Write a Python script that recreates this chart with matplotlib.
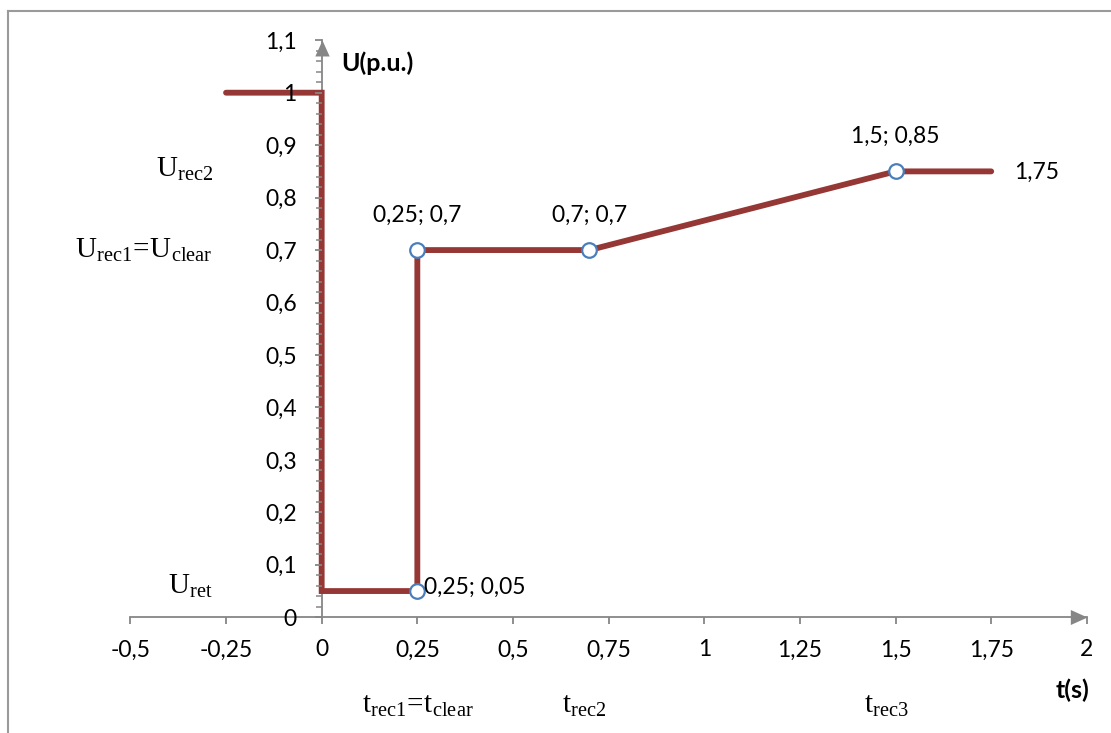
import matplotlib
matplotlib.use("Agg")
import matplotlib.pyplot as plt
from matplotlib.lines import Line2D
import numpy as np

# ---- data ----
t_values = [-0.25, 0.0, 0.0, 0.25, 0.25, 0.7, 1.5, 1.75]
u_values = [1.0, 1.0, 0.05, 0.05, 0.7, 0.7, 0.85, 0.85]
marker_t = [0.25, 0.25, 0.7, 1.5]
marker_u = [0.05, 0.7, 0.7, 0.85]
marker_labels = ["0,25; 0,05", "0,25; 0,7", "0,7; 0,7", "1,5; 0,85"]
end_label = "1,75"
x_ticks = [-0.5, -0.25, 0, 0.25, 0.5, 0.75, 1, 1.25, 1.5, 1.75, 2]
x_tick_labels = ["-0,5", "-0,25", "0", "0,25", "0,5", "0,75", "1", "1,25", "1,5", "1,75", "2"]
y_ticks = [0, 0.1, 0.2, 0.3, 0.4, 0.5, 0.6, 0.7, 0.8, 0.9, 1.0, 1.1]
y_tick_labels = ["0", "0,1", "0,2", "0,3", "0,4", "0,5", "0,6", "0,7", "0,8", "0,9", "1", "1,1"]

plt.rcParams['font.family'] = ['Lato', 'DejaVu Sans']
plt.rcParams['mathtext.fontset'] = 'custom'
plt.rcParams['mathtext.rm'] = 'Liberation Serif'
plt.rcParams['mathtext.it'] = 'Liberation Serif:italic'

LINE = '#953735'
AX = '#868686'
MK = '#4A7EBB'
FS = 16.5

fig = plt.figure(figsize=(11.11, 7.33), dpi=100)
ax = fig.add_axes([0, 0, 1, 1])
ax.set_xlim(-0.8408, 2.0631)
ax.set_ylim(-0.2206, 1.1767)
ax.patch.set_alpha(0)

for s in ['top', 'right']:
    ax.spines[s].set_visible(False)
ax.spines['left'].set_position(('data', 0))
ax.spines['bottom'].set_position(('data', 0))
ax.spines['left'].set_bounds(0, 1.1)
ax.spines['bottom'].set_bounds(-0.5, 2.0)
for s in ['left', 'bottom']:
    ax.spines[s].set_color(AX)
    ax.spines[s].set_linewidth(1.3)
    ax.spines[s].set_zorder(1.5)

ax.set_xticks(x_ticks)
ax.set_xticklabels(x_tick_labels, fontsize=FS)
ax.set_yticks(y_ticks)
ax.set_yticklabels(y_tick_labels, fontsize=FS)
ax.set_yticks(np.arange(0, 1.1001, 0.02), minor=True)
ax.tick_params(axis='x', direction='out', length=5, width=1.3, color=AX, pad=11)
ax.tick_params(axis='y', which='major', direction='out', length=5, width=1.3, color=AX, pad=13)
ax.tick_params(axis='y', which='minor', direction='out', length=4, width=1.1, color=AX)
ax.set_axisbelow(False)

# arrow heads
up = [(-0.45, -1), (0.45, -1), (0, 0)]
right = [(-1, -0.45), (-1, 0.45), (0, 0)]
ax.plot([0], [1.1], marker=up, markersize=23, color=AX, markeredgewidth=0, zorder=1.6, clip_on=False)
ax.plot([2.0], [0], marker=right, markersize=24, color=AX, markeredgewidth=0, zorder=1.6, clip_on=False)

# main line
ax.plot(t_values, u_values, color=LINE, linewidth=4.2, solid_capstyle='round',
        solid_joinstyle='miter', zorder=2)
ax.plot(marker_t, marker_u, linestyle='none', marker='o', markersize=10.5,
        markerfacecolor='white', markeredgecolor=MK, markeredgewidth=1.6, zorder=3)

# data labels
ax.annotate(marker_labels[0], xy=(marker_t[0], marker_u[0]), xytext=(5, 2.5),
            textcoords='offset points', ha='left', va='center', fontsize=FS)
for i in range(1, 4):
    ax.annotate(marker_labels[i], xy=(marker_t[i], marker_u[i]), xytext=(0, 25),
                textcoords='offset points', ha='center', va='center', fontsize=FS)
ax.annotate(end_label, xy=(t_values[-1], u_values[-1]), xytext=(16.5, -1),
            textcoords='offset points', ha='left', va='center', fontsize=FS)

# axis titles
ax.text(0.050, 1.056, "U(p.u.)", fontsize=18, fontweight='bold', ha='left', va='center')
ax.text(1.963, -0.14, "t(s)", fontsize=18, fontweight='bold', ha='center', va='center')

# serif annotations
SFS = 21
ax.text(-0.284, 0.840, r'$\mathrm{U_{rec2}}$', fontsize=SFS, ha='right', va='baseline')
ax.text(-0.284, 0.685, r'$\mathrm{U_{rec1}\!=\!U_{clear}}$', fontsize=SFS, ha='right', va='baseline')
ax.text(-0.284, 0.0457, r'$\mathrm{U_{ret}}$', fontsize=SFS, ha='right', va='baseline')
ax.text(0.25, -0.1824, r'$\mathrm{t_{rec1}\!=\!t_{clear}}$', fontsize=SFS, ha='center', va='baseline')
ax.text(0.685, -0.1824, r'$\mathrm{t_{rec2}}$', fontsize=SFS, ha='center', va='baseline')
ax.text(1.476, -0.1824, r'$\mathrm{t_{rec3}}$', fontsize=SFS, ha='center', va='baseline')

# frame border (top and left)
fig.add_artist(Line2D([8 / 1111, 1.0], [1 - 10.5 / 733, 1 - 10.5 / 733], color='#9a9a9a', linewidth=1.5))
fig.add_artist(Line2D([8 / 1111, 8 / 1111], [0.0, 1 - 10.5 / 733], color='#9a9a9a', linewidth=1.5))

fig.savefig("out.png", dpi=100)
